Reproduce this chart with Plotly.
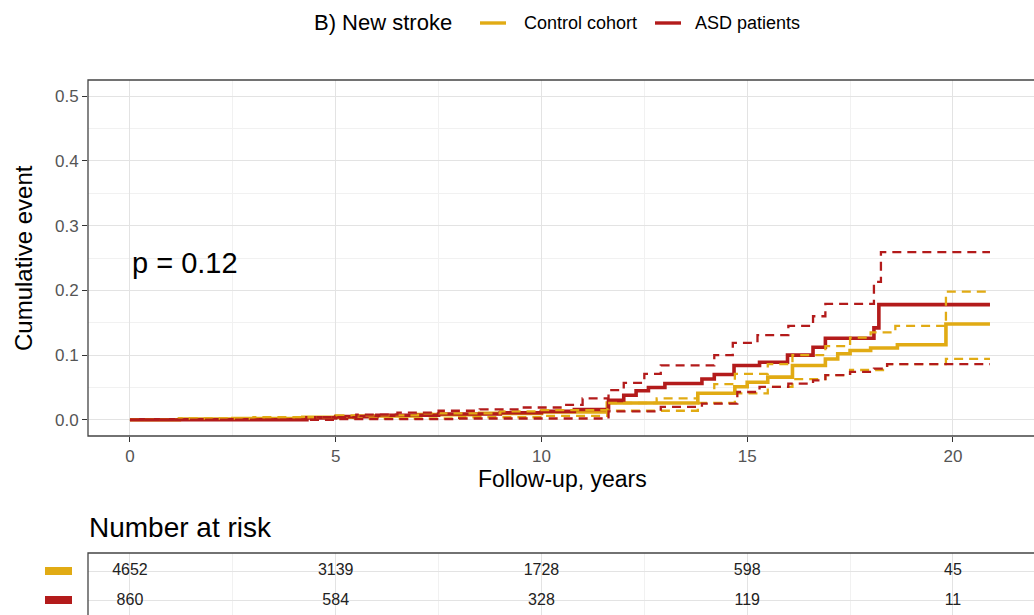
import plotly.graph_objects as go

W, H = 1034, 615
def px(x): return x / W
def py(y): return 1 - y / H

YEL = "#E1AB14"
RED = "#B31B1B"
SANS = "Liberation Sans, Arial"

# ---- data ----
ctrl_t = [0, 1.2, 2.5, 4.2, 5.5, 7.0, 8.5, 10.0, 11.6, 13.8, 14.7, 15.0, 15.5, 16.1, 16.9, 17.2, 17.5, 18.0, 18.65, 19.83, 20.9]
ctrl_est = [0, 0.001, 0.002, 0.004, 0.006, 0.008, 0.010, 0.012, 0.026, 0.041, 0.051, 0.058, 0.066, 0.084, 0.094, 0.102, 0.107, 0.111, 0.116, 0.148, 0.148]

ctrl_up_t = [0, 1.2, 3.0, 5.0, 7.0, 9.0, 10.0, 11.6, 12.8, 13.8, 14.2, 14.7, 15.5, 16.1, 16.9, 17.5, 18.0, 18.6, 19.83, 20.9]
ctrl_up = [0, 0.002, 0.004, 0.007, 0.010, 0.013, 0.015, 0.026, 0.033, 0.041, 0.055, 0.071, 0.086, 0.100, 0.114, 0.127, 0.135, 0.145, 0.198, 0.198]

ctrl_lo_t = [0, 5.0, 8.0, 10.0, 11.6, 13.8, 14.7, 15.5, 16.1, 16.9, 17.5, 18.4, 19.83, 20.9]
ctrl_lo = [0, 0.002, 0.004, 0.006, 0.014, 0.026, 0.041, 0.051, 0.063, 0.069, 0.077, 0.086, 0.094, 0.094]

asd_t = [0, 4.3, 5.0, 6.0, 7.5, 9.0, 10.0, 10.8, 11.63, 12.0, 12.3, 12.6, 13.0, 13.9, 14.2, 14.68, 15.3, 15.98, 16.6, 16.9, 18.08, 18.2, 20.9]
asd_est = [0, 0.003, 0.005, 0.007, 0.009, 0.011, 0.013, 0.016, 0.030, 0.038, 0.045, 0.050, 0.056, 0.063, 0.070, 0.084, 0.089, 0.100, 0.112, 0.126, 0.142, 0.178, 0.178]

asd_up_t = [0, 4.5, 5.5, 6.5, 7.5, 8.5, 9.5, 10.5, 11.0, 11.63, 12.0, 12.5, 12.9, 14.2, 14.65, 15.25, 16.0, 16.6, 16.9, 18.08, 18.25, 20.9]
asd_up = [0, 0.004, 0.008, 0.011, 0.014, 0.016, 0.019, 0.023, 0.033, 0.046, 0.057, 0.071, 0.084, 0.100, 0.119, 0.131, 0.145, 0.160, 0.179, 0.213, 0.259, 0.259]

asd_lo_t = [0, 5.0, 8.0, 11.63, 12.9, 13.9, 14.76, 15.3, 16.0, 16.6, 16.9, 17.5, 18.08, 18.4, 20.9]
asd_lo = [0, 0.001, 0.002, 0.013, 0.020, 0.025, 0.043, 0.051, 0.056, 0.061, 0.069, 0.074, 0.079, 0.086, 0.086]

risk_times = [0, 5, 10, 15, 20]
risk_ctrl = [4652, 3139, 1728, 598, 45]
risk_asd = [860, 584, 328, 119, 11]

x_ticks = [0, 5, 10, 15, 20]
y_ticks = [0, 0.1, 0.2, 0.3, 0.4, 0.5]
y_ticktext = ["0.0", "0.1", "0.2", "0.3", "0.4", "0.5"]

group_names = ["Control cohort", "ASD patients"]

fig = go.Figure()

DASH = "9px,6px"
LW = 3.6
fig.add_trace(go.Scatter(x=ctrl_t, y=ctrl_est, mode="lines", line=dict(color=YEL, width=LW, shape="hv"),
                         name=group_names[0], showlegend=False))
fig.add_trace(go.Scatter(x=asd_t, y=asd_est, mode="lines", line=dict(color=RED, width=LW, shape="hv"),
                         name=group_names[1], showlegend=False))
fig.add_trace(go.Scatter(x=ctrl_up_t, y=ctrl_up, mode="lines", line=dict(color=YEL, width=2.3, shape="hv", dash=DASH), showlegend=False))
fig.add_trace(go.Scatter(x=ctrl_lo_t, y=ctrl_lo, mode="lines", line=dict(color=YEL, width=2.3, shape="hv", dash=DASH), showlegend=False))
fig.add_trace(go.Scatter(x=asd_up_t, y=asd_up, mode="lines", line=dict(color=RED, width=2.3, shape="hv", dash=DASH), showlegend=False))
fig.add_trace(go.Scatter(x=asd_lo_t, y=asd_lo, mode="lines", line=dict(color=RED, width=2.3, shape="hv", dash=DASH), showlegend=False))

# risk table
fig.add_trace(go.Scatter(x=risk_times, y=[1] * len(risk_times), mode="text", text=[str(v) for v in risk_ctrl],
                         textfont=dict(family=SANS, size=16, color="#222"), xaxis="x2", yaxis="y2", showlegend=False))
fig.add_trace(go.Scatter(x=risk_times, y=[0] * len(risk_times), mode="text", text=[str(v) for v in risk_asd],
                         textfont=dict(family=SANS, size=16, color="#222"), xaxis="x2", yaxis="y2", showlegend=False))

xr = [-1.02, 21.97]
grid_major = "#E3E3E3"
grid_minor = "#F1F1F1"
TICKFONT = dict(family=SANS, size=17, color="#555")

fig.update_layout(
    width=W, height=H, margin=dict(l=0, r=0, t=0, b=0),
    paper_bgcolor="white", plot_bgcolor="white",
    font=dict(family=SANS, color="#000"),
    xaxis=dict(domain=[px(88), 1], range=xr, tickvals=x_ticks, ticks="outside", ticklen=5, tickcolor="#333",
               tickfont=TICKFONT, showgrid=True, gridcolor=grid_major,
               minor=dict(tickvals=[2.5, 7.5, 12.5, 17.5], showgrid=True, gridcolor=grid_minor, ticks=""),
               zeroline=False, showline=False, anchor="y", automargin=False, fixedrange=True),
    yaxis=dict(domain=[py(436), py(80)], range=[-0.025, 0.525], tickvals=y_ticks, ticktext=y_ticktext,
               ticks="outside", ticklen=5, tickcolor="#333",
               tickfont=TICKFONT, showgrid=True, gridcolor=grid_major,
               minor=dict(tickvals=[0.05, 0.15, 0.25, 0.35, 0.45], showgrid=True, gridcolor=grid_minor, ticks=""),
               zeroline=False, showline=False, anchor="x", automargin=False),
    xaxis2=dict(domain=[px(88), 1], range=xr, tickvals=x_ticks, showticklabels=False, ticks="",
                showgrid=True, gridcolor=grid_major,
                minor=dict(tickvals=[2.5, 7.5, 12.5, 17.5], showgrid=True, gridcolor=grid_minor, ticks=""),
                zeroline=False, showline=False, anchor="y2", automargin=False),
    yaxis2=dict(domain=[0, py(553)], range=[-0.467, 1.6], tickvals=[0, 1], showticklabels=False, ticks="",
                showgrid=True, gridcolor=grid_major, zeroline=False, showline=False, anchor="x2", automargin=False),
    showlegend=False,
    shapes=[
        dict(type="rect", xref="x domain", yref="y domain", x0=0, x1=1.01, y0=0, y1=1,
             line=dict(color="#444", width=1.3), layer="above"),
        dict(type="rect", xref="x2 domain", yref="y2 domain", x0=0, x1=1.01, y0=-0.05, y1=1,
             line=dict(color="#444", width=1.3), layer="above"),
        # risk-table colour keys
        dict(type="rect", xref="paper", yref="paper", x0=px(45), x1=px(72), y0=py(575), y1=py(567),
             fillcolor=YEL, line=dict(width=0)),
        dict(type="rect", xref="paper", yref="paper", x0=px(45), x1=px(72), y0=py(604), y1=py(596),
             fillcolor=RED, line=dict(width=0)),
        # legend keys
        dict(type="line", xref="paper", yref="paper", x0=px(480), x1=px(506), y0=py(23), y1=py(23),
             line=dict(color=YEL, width=3.4)),
        dict(type="line", xref="paper", yref="paper", x0=px(655), x1=px(681), y0=py(23), y1=py(23),
             line=dict(color=RED, width=3.4)),
    ],
    annotations=[
        dict(text="B) New stroke", x=px(312), y=py(23), xref="paper", yref="paper", xanchor="left",
             yanchor="middle", showarrow=False, font=dict(family=SANS, size=22, color="#000")),
        dict(text=group_names[0], x=px(522), y=py(23), xref="paper", yref="paper", xanchor="left",
             yanchor="middle", showarrow=False, font=dict(family=SANS, size=18, color="#000")),
        dict(text=group_names[1], x=px(693), y=py(23), xref="paper", yref="paper", xanchor="left",
             yanchor="middle", showarrow=False, font=dict(family=SANS, size=18, color="#000")),
        dict(text="p = 0.12", x=0, y=0.243, xref="x", yref="y", xanchor="left", yanchor="middle",
             showarrow=False, font=dict(family=SANS, size=29, color="#000")),
        dict(text="Follow-up, years", x=px(562), y=py(479), xref="paper", yref="paper",
             xanchor="center", yanchor="middle", showarrow=False, font=dict(family=SANS, size=23, color="#000")),
        dict(text="Cumulative event", x=px(24), y=py(258), xref="paper", yref="paper", textangle=-90,
             xanchor="center", yanchor="middle", showarrow=False, font=dict(family=SANS, size=24, color="#000")),
        dict(text="Number at risk", x=px(87), y=py(527), xref="paper", yref="paper",
             xanchor="left", yanchor="middle", showarrow=False, font=dict(family=SANS, size=28, color="#000")),
    ],
)

fig.write_html("out.html")
